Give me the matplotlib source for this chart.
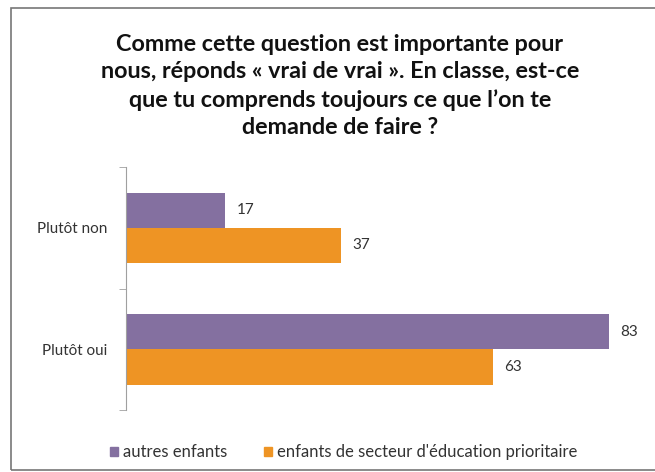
import matplotlib.pyplot as plt
from matplotlib.patches import Rectangle
import numpy as np

plt.rcParams['font.family'] = ['Lato', 'DejaVu Sans']

categories = ["Plutôt non", "Plutôt oui"]
series_names = ["autres enfants", "enfants de secteur d'éducation prioritaire"]
autres = [17, 83]
prioritaire = [37, 63]
colors = ["#8470a0", "#ee9424"]

title = ("Comme cette question est importante pour\n"
         "nous, réponds « vrai de vrai ». En classe, est-ce\n"
         "que tu comprends toujours ce que l’on te\n"
         "demande de faire ?")

fig = plt.figure(figsize=(6.55, 4.72), dpi=100)
ax = fig.add_axes([0.192, 0.131, 0.80, 0.515])

y = np.arange(len(categories))
h = 0.29
b1 = ax.barh(y - h / 2, autres, height=h, color=colors[0], label=series_names[0])
b2 = ax.barh(y + h / 2, prioritaire, height=h, color=colors[1], label=series_names[1])

for bars in (b1, b2):
    for rect in bars:
        w = rect.get_width()
        ax.text(w + 2.0, rect.get_y() + rect.get_height() / 2, f"{w:g}",
                va="center", ha="left", fontsize=11, color="#333333")

ax.set_xlim(0, 90)
ax.set_ylim(1.5, -0.5)
ax.set_yticks(y)
ax.set_yticklabels(categories, fontsize=11, color="#333333")
ax.set_yticks([-0.5, 0.5, 1.5], minor=True)
ax.tick_params(axis="y", which="major", length=0, pad=13)
ax.tick_params(axis="y", which="minor", length=5, color="#a0a0a0", direction="out")
ax.set_xticks([])
for s in ("top", "right", "bottom"):
    ax.spines[s].set_visible(False)
ax.spines["left"].set_color("#a0a0a0")

fig.text(0.519, 0.928, title, ha="center", va="top", fontsize=16.8,
         fontweight="bold", linespacing=1.38, color="#111111")

handles = [Rectangle((0, 0), 1, 1, color=c) for c in colors]
fig.legend(handles, series_names, loc="center", bbox_to_anchor=(0.525, 0.042),
           ncol=2, frameon=False, fontsize=12, handlelength=0.5, handleheight=0.5,
           handletextpad=0.3, columnspacing=2.2, labelcolor="#333333")

fig.patches.append(Rectangle((11 / 655, 2 / 472), 1, 1 - 10 / 472,
                             transform=fig.transFigure, fill=False,
                             edgecolor="#777777", linewidth=1.2))

fig.savefig("out.png", dpi=100)
